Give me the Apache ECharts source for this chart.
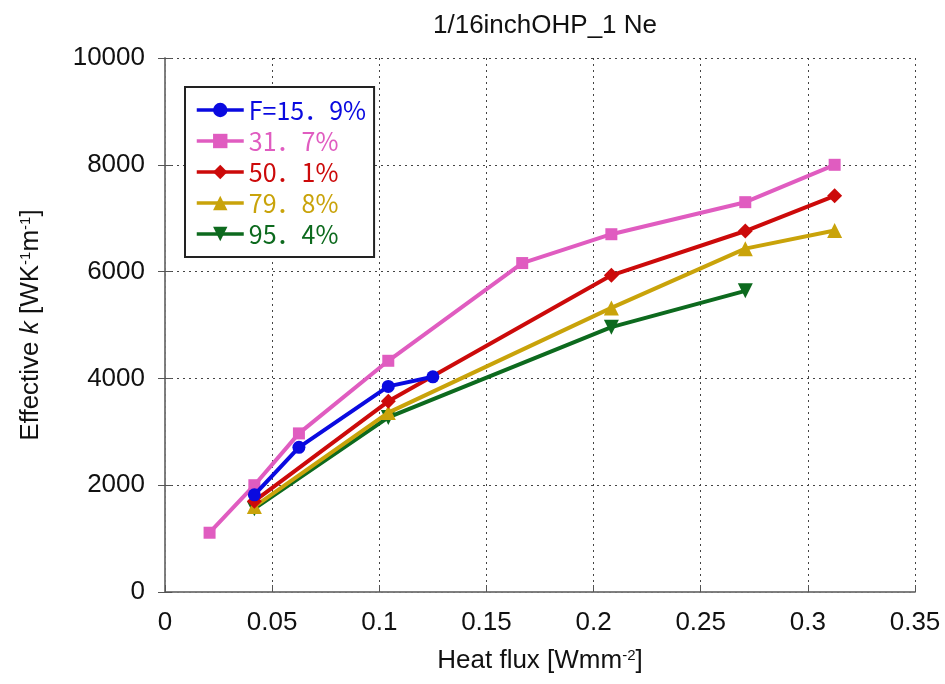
<!DOCTYPE html>
<html><head><meta charset="utf-8">
<script src="https://cdn.jsdelivr.net/npm/echarts@6/dist/echarts.min.js"></script>
<style>html,body{margin:0;padding:0;background:#fff}#c{width:945px;height:684px}</style>
</head><body><div id="c"></div>
<script>
const FONT = '"Liberation Sans Narrow","Liberation Sans",Arial,sans-serif';
const seriesNames = ['F=15．9%', '31．7%', '50．1%', '79．8%', '95．4%'];
const colors = ['#0a0ae0', '#e05cc0', '#cc0a0a', '#c9a30a', '#0d6a1e'];
const symbols = ['circle', 'rect', 'diamond', 'triangle', 'triangle'];
const symbolRotates = [0, 0, 0, 0, 180];

const x159 = [0.0417, 0.0625, 0.1042, 0.125];
const y159 = [1820, 2710, 3850, 4030];
const x317 = [0.0208, 0.0417, 0.0625, 0.1042, 0.1667, 0.2083, 0.2708, 0.3125];
const y317 = [1110, 2000, 2970, 4330, 6160, 6700, 7300, 8000];
const x501 = [0.0417, 0.1042, 0.2083, 0.2708, 0.3125];
const y501 = [1700, 3570, 5930, 6760, 7420];
const x798 = [0.0417, 0.1042, 0.2083, 0.2708, 0.3125];
const y798 = [1600, 3360, 5320, 6430, 6770];
const x954 = [0.0417, 0.1042, 0.2083, 0.2708];
const y954 = [1560, 3270, 4960, 5640];

const xs = [x159, x317, x501, x798, x954];
const ys = [y159, y317, y501, y798, y954];

const xTicks = { min: 0, max: 0.35, interval: 0.05 };
const yTicks = { min: 0, max: 10000, interval: 2000 };

const chart = echarts.init(document.getElementById('c'));
const series = seriesNames.map((n, i) => ({
  name: n, type: 'line',
  data: xs[i].map((x, j) => [x, ys[i][j]]),
  symbol: symbols[i], symbolRotate: symbolRotates[i],
  symbolSize: symbols[i] === 'rect' ? 12 : (symbols[i] === 'circle' ? 13 : 15),
  lineStyle: { color: colors[i], width: 4 },
  itemStyle: { color: colors[i] },
  z: 10 - i
}));

const gridStyle = { show: true, lineStyle: { color: '#444', type: [2, 4], width: 1 } };
const edgeLine = { show: true, lineStyle: { color: '#777', width: 1.5 } };
chart.setOption({
  animation: false,
  backgroundColor: '#fff',
  title: { text: '1/16inchOHP_1 Ne', left: 540, textAlign: 'center', top: 8,
    textStyle: { fontFamily: FONT, fontSize: 26, fontWeight: 'normal', color: '#111' } },
  grid: { left: 165, right: 30, top: 58, bottom: 92, containLabel: false },
  legend: {
    orient: 'vertical', left: 185, top: 87,
    padding: [9, 8, 9, 10],
    borderColor: '#222', borderWidth: 2, backgroundColor: '#fff',
    itemWidth: 47, itemHeight: 18, itemGap: 3,
    lineStyle: { width: 3.5 },
    textStyle: { fontFamily: '"Noto Sans CJK JP", sans-serif', fontSize: 25, lineHeight: 28 },
    data: seriesNames.map((n, i) => ({ name: n, textStyle: { color: colors[i] } }))
  },
  xAxis: [{
    type: 'value', min: xTicks.min, max: xTicks.max, interval: xTicks.interval,
    axisLine: edgeLine, axisTick: { show: true, inside: true, length: 7, lineStyle: { color: '#555' } },
    splitLine: gridStyle,
    axisLabel: { fontFamily: FONT, fontSize: 26, color: '#111', margin: 18,
      formatter: v => String(Math.round(v * 100) / 100) },
    name: 'Heat flux [Wmm{sup|-2}]', nameLocation: 'middle', nameGap: 56,
    nameTextStyle: { fontFamily: FONT, fontSize: 26, color: '#111',
      rich: { sup: { fontFamily: FONT, fontSize: 15, color: '#111', verticalAlign: 'top', padding: [0, 0, 11, 0] } } }
  }, {
    type: 'value', position: 'top', min: xTicks.min, max: xTicks.max, interval: xTicks.interval,
    axisLine: edgeLine, axisTick: { show: false }, axisLabel: { show: false }, splitLine: { show: false }
  }],
  yAxis: [{
    type: 'value', min: yTicks.min, max: yTicks.max, interval: yTicks.interval,
    axisLine: edgeLine, axisTick: { show: true, inside: true, length: 7, lineStyle: { color: '#555' } },
    splitLine: gridStyle,
    axisLabel: { fontFamily: FONT, fontSize: 26, color: '#111', margin: 20, formatter: v => String(v) },
    name: 'Effective {it|k} [WK{sup|-1}m{sup|-1}]', nameLocation: 'middle', nameGap: 121, nameRotate: 90,
    nameTextStyle: { fontFamily: FONT, fontSize: 26, color: '#111',
      rich: { it: { fontFamily: FONT, fontSize: 26, fontStyle: 'italic', color: '#111' },
              sup: { fontFamily: FONT, fontSize: 15, color: '#111', verticalAlign: 'top', padding: [0, 0, 11, 0] } } }
  }, {
    type: 'value', position: 'right', min: yTicks.min, max: yTicks.max, interval: yTicks.interval,
    axisLine: edgeLine, axisTick: { show: true, inside: true, length: 7, lineStyle: { color: '#555' } },
    axisLabel: { show: false }, splitLine: { show: false }
  }],
  series: series
});
</script></body></html>
